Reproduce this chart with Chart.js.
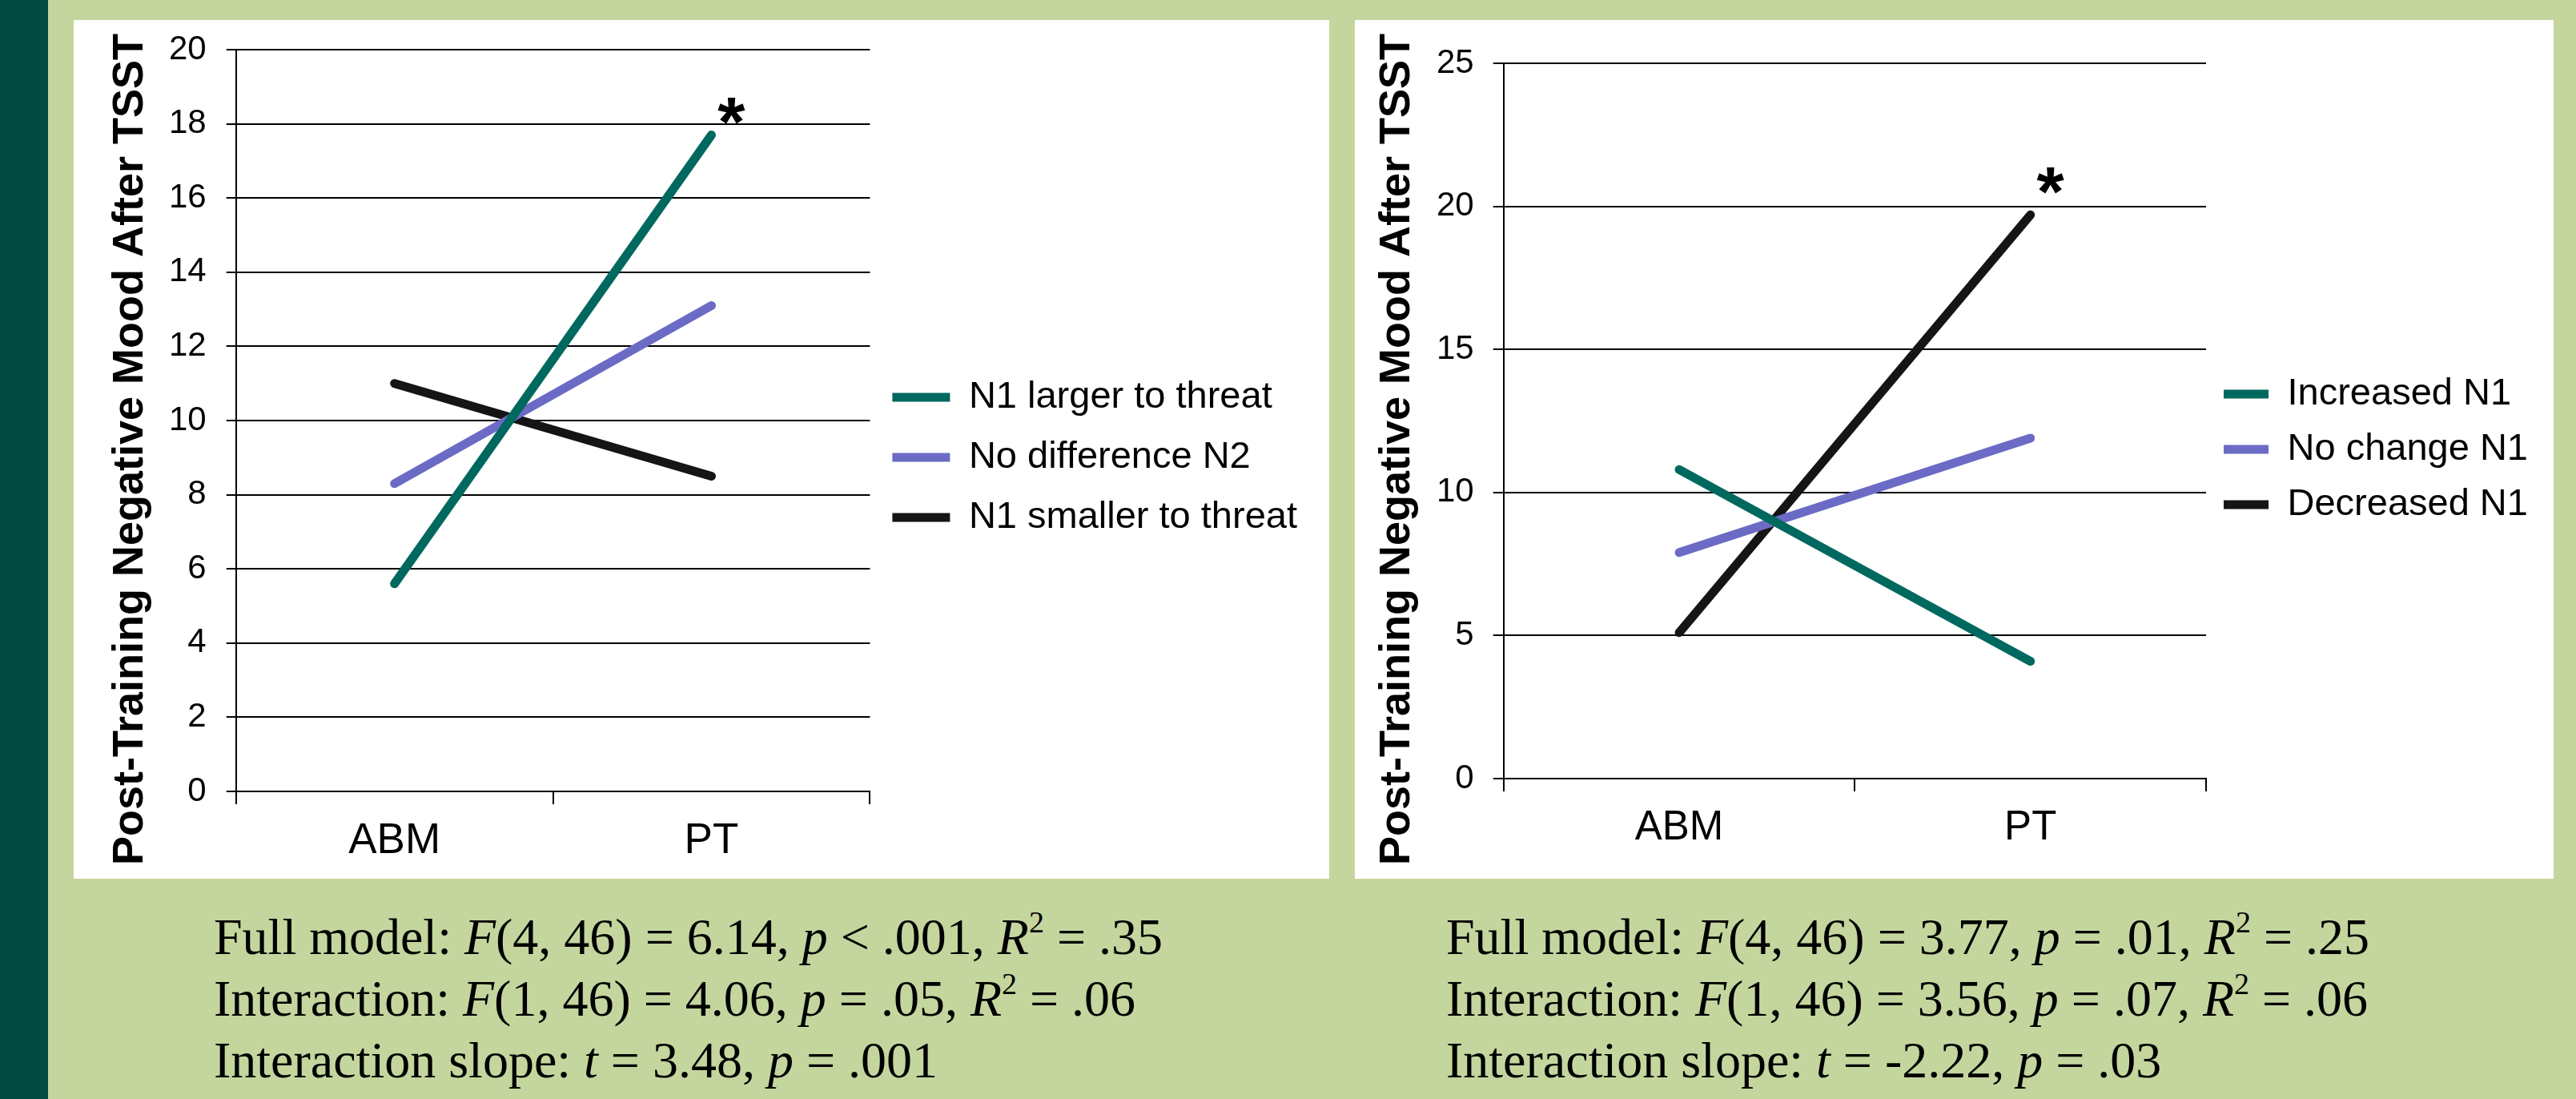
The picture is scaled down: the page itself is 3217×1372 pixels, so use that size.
<!DOCTYPE html>
<html>
<head>
<meta charset="utf-8">
<script src="https://cdn.jsdelivr.net/npm/chart.js@4.4.1/dist/chart.umd.min.js"></script>
<style>
    body { margin: 0; width: 3217px; height: 1372px; background: #C4D69E; position: relative; overflow: hidden; }
    .strip { position: absolute; left: 0; top: 0; width: 60px; height: 1372px; background: #034A40; }
    .panel { position: absolute; top: 25px; height: 1072px; background: #fff; }
    .panel canvas { display: block; }
    #panel-left { left: 92px; width: 1568px; }
    #panel-right { left: 1692px; width: 1497px; }
    .stats { position: absolute; top: 1131px; font-family: 'Liberation Serif', 'Times New Roman', serif; font-size: 64px; line-height: 77px; color: #000; white-space: nowrap; }
    .stats i { font-style: italic; }
    .stats sup { font-size: 38px; line-height: 0; vertical-align: 27px; }
    #stats-left { left: 267px; }
    #stats-right { left: 1806px; }
</style>
</head>
<body>
<div class="strip"></div>
<div class="panel" id="panel-left"><canvas id="chart-left" width="1568" height="1072"></canvas></div>
<div class="panel" id="panel-right"><canvas id="chart-right" width="1497" height="1072"></canvas></div>
<div class="stats" id="stats-left">
    Full model: <i>F</i>(4, 46) = 6.14, <i>p</i> &lt; .001, <i>R</i><sup>2</sup> = .35<br>
    Interaction: <i>F</i>(1, 46) = 4.06, <i>p</i> = .05, <i>R</i><sup>2</sup> = .06<br>
    Interaction slope: <i>t</i> = 3.48, <i>p</i> = .001
</div>
<div class="stats" id="stats-right">
    Full model: <i>F</i>(4, 46) = 3.77, <i>p</i> = .01, <i>R</i><sup>2</sup> = .25<br>
    Interaction: <i>F</i>(1, 46) = 3.56, <i>p</i> = .07, <i>R</i><sup>2</sup> = .06<br>
    Interaction slope: <i>t</i> = -2.22, <i>p</i> = .03
</div>
<script>
// Data
const categories = ['ABM', 'PT'];
const yTitle = 'Post-Training Negative Mood After TSST';

const leftSeriesNames = ['N1 larger to threat', 'No difference N2', 'N1 smaller to threat'];
const leftLarger = [5.6, 17.7];
const leftNoDiff = [8.3, 13.1];
const leftSmaller = [11.0, 8.5];
const leftYTicks = [0, 2, 4, 6, 8, 10, 12, 14, 16, 18, 20];

const rightSeriesNames = ['Increased N1', 'No change N1', 'Decreased N1'];
const rightIncreased = [10.8, 4.1];
const rightNoChange = [7.9, 11.9];
const rightDecreased = [5.1, 19.7];
const rightYTicks = [0, 5, 10, 15, 20, 25];

const colors = ['#00695F', '#6B6BC6', '#151515'];
const SANS = "'Liberation Sans', Arial, sans-serif";

Chart.defaults.font.family = SANS;
Chart.defaults.color = '#000';

// Rotated axis title + significance star
const decorations = {
    id: 'decorations',
    afterDraw(chart, args, opts) {
        const ctx = chart.ctx;
        ctx.save();
        ctx.fillStyle = '#000';
        ctx.font = 'bold 54px ' + SANS;
        ctx.textAlign = 'center';
        ctx.textBaseline = 'middle';
        ctx.translate(opts.titleX, chart.height / 2);
        ctx.rotate(-Math.PI / 2);
        ctx.fillText(opts.title, 0, 0);
        ctx.restore();

        const pt = chart.getDatasetMeta(opts.starDataset).data[opts.starIndex];
        ctx.save();
        ctx.fillStyle = '#000';
        ctx.font = 'bold 88px ' + SANS;
        ctx.textAlign = 'center';
        ctx.textBaseline = 'alphabetic';
        const m = ctx.measureText('*');
        const cy = pt.y + opts.starDy;
        ctx.fillText('*', pt.x + opts.starDx, cy + (m.actualBoundingBoxAscent - m.actualBoundingBoxDescent) / 2);
        ctx.restore();
    }
};

function makeDatasets(names, series) {
    return names.map((name, i) => ({
        label: name,
        data: series[i],
        borderColor: colors[i],
        backgroundColor: colors[i],
        borderWidth: 11,
        borderCapStyle: 'round',
        pointRadius: 0,
        pointHoverRadius: 0,
        tension: 0
    }));
}

function makeChart(canvasId, names, series, yTicks, cfg) {
    return new Chart(document.getElementById(canvasId), {
        type: 'line',
        data: { labels: categories, datasets: makeDatasets(names, series) },
        plugins: [decorations],
        options: {
            responsive: false,
            animation: false,
            layout: { padding: cfg.padding },
            scales: {
                x: {
                    offset: true,
                    grid: { display: true, offset: true, drawOnChartArea: false, color: '#000', lineWidth: 2, tickLength: 16 },
                    border: { display: true, color: '#000', width: 2 },
                    ticks: { font: { size: cfg.xFont }, padding: 15, color: '#000' },
                    afterFit: s => { s.height = cfg.xHeight; }
                },
                y: {
                    min: yTicks[0],
                    max: yTicks[yTicks.length - 1],
                    afterBuildTicks: s => { s.ticks = yTicks.map(v => ({ value: v })); },
                    afterFit: s => { s.paddingTop = cfg.plotTop; },
                    grid: { color: '#000', lineWidth: 2, tickLength: cfg.yTick },
                    border: { display: true, color: '#000', width: 2 },
                    ticks: { font: { size: 42 }, padding: cfg.yPad, color: '#000' }
                }
            },
            plugins: {
                legend: {
                    position: 'right',
                    maxWidth: 1200,
                    labels: {
                        usePointStyle: true,
                        pointStyle: 'line',
                        pointStyleWidth: cfg.legendLine,
                        padding: cfg.legendPad,
                        font: { size: 47 },
                        color: '#000'
                    }
                },
                tooltip: { enabled: false },
                decorations: {
                    title: yTitle,
                    titleX: cfg.titleX,
                    starDataset: cfg.starDataset,
                    starIndex: 1,
                    starDx: 25,
                    starDy: cfg.starDy
                }
            }
        }
    });
}

makeChart('chart-left', leftSeriesNames, [leftLarger, leftNoDiff, leftSmaller], leftYTicks, {
    padding: { left: 94, top: 30, right: 30, bottom: 10 },
    plotTop: 37, xFont: 53, xHeight: 99,
    yTick: 12, yPad: 25,
    legendLine: 72, legendPad: 28,
    titleX: 71, starDataset: 0, starDy: -30
});

makeChart('chart-right', rightSeriesNames, [rightIncreased, rightNoChange, rightDecreased], rightYTicks, {
    padding: { left: 78, top: 20, right: 22, bottom: 20 },
    plotTop: 54, xFont: 51, xHeight: 105,
    yTick: 13, yPad: 24,
    legendLine: 56, legendPad: 22,
    titleX: 53, starDataset: 2, starDy: -43
});
</script>
</body>
</html>
